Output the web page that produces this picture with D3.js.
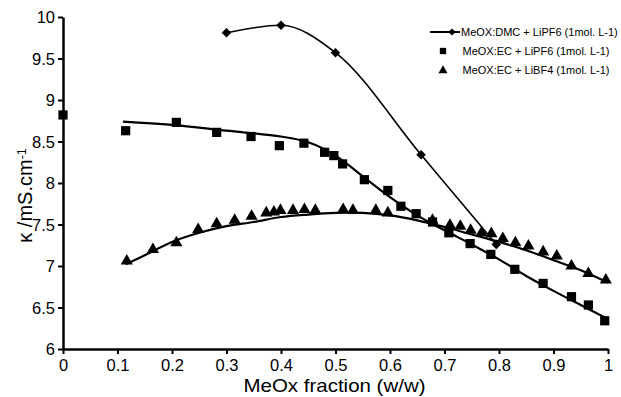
<html><head>
<script src="https://d3js.org/d3.v7.min.js"></script>
<style>
  body { margin: 0; background: #fff; }
  text { font-family: "Liberation Sans", Arial, sans-serif; fill: #000; }
  .axis .domain { stroke: #000; stroke-width: 2.5px; }
  .axis line { stroke: #000; stroke-width: 2px; }
  .fit { fill: none; stroke: #000; stroke-width: 2.2px; }
  .dmc-line { fill: none; stroke: #000; stroke-width: 1.6px; }
</style>
</head>
<body>
<svg id="chart" width="621" height="397"></svg>
<script>
  // MeOX:DMC + LiPF6 (1mol. L-1) - measured points, line goes through them
  const dmcX = [0.30, 0.40, 0.50, 0.657, 0.795];
  const dmcY = [9.81, 9.90, 9.57, 8.34, 7.26];

  // MeOX:EC + LiPF6 (1mol. L-1)
  const ecPf6X = [0, 0.115, 0.208, 0.282, 0.345, 0.397, 0.442, 0.48, 0.497, 0.513, 0.553, 0.596, 0.62, 0.648, 0.678, 0.708, 0.747, 0.785, 0.829, 0.881, 0.933, 0.964, 0.994];
  const ecPf6Y = [8.82, 8.63, 8.73, 8.61, 8.56, 8.45, 8.48, 8.37, 8.33, 8.23, 8.04, 7.91, 7.72, 7.63, 7.53, 7.40, 7.27, 7.14, 6.96, 6.79, 6.63, 6.53, 6.34];
  // trend line
  const ecPf6FitX = [0.11, 0.2, 0.3, 0.4, 0.45, 0.5, 0.55, 0.6, 0.65, 0.7, 0.75, 0.8, 0.85, 0.9, 0.95, 1.0];
  const ecPf6FitY = [8.74, 8.70, 8.63, 8.56, 8.49, 8.33, 8.08, 7.83, 7.61, 7.43, 7.26, 7.08, 6.88, 6.70, 6.53, 6.36];

  // MeOX:EC + LiBF4 (1mol. L-1)
  const ecBf4X = [0.117, 0.165, 0.208, 0.248, 0.282, 0.315, 0.346, 0.373, 0.387, 0.399, 0.422, 0.443, 0.463, 0.514, 0.532, 0.574, 0.596, 0.678, 0.710, 0.729, 0.748, 0.768, 0.786, 0.807, 0.830, 0.854, 0.881, 0.906, 0.933, 0.964, 0.996];
  const ecBf4Y = [7.06, 7.20, 7.28, 7.44, 7.51, 7.55, 7.60, 7.64, 7.65, 7.67, 7.67, 7.68, 7.67, 7.68, 7.67, 7.67, 7.64, 7.55, 7.49, 7.48, 7.43, 7.40, 7.39, 7.33, 7.28, 7.24, 7.17, 7.12, 7.00, 6.91, 6.83];
  const ecBf4FitX = [0.115, 0.15, 0.2, 0.25, 0.3, 0.35, 0.4, 0.45, 0.5, 0.55, 0.6, 0.65, 0.7, 0.75, 0.8, 0.85, 0.9, 0.95, 1.0];
  const ecBf4FitY = [7.02, 7.13, 7.29, 7.40, 7.48, 7.53, 7.59, 7.62, 7.64, 7.64, 7.61, 7.55, 7.47, 7.38, 7.29, 7.19, 7.07, 6.95, 6.80];

  const xTicks = [0, 0.1, 0.2, 0.3, 0.4, 0.5, 0.6, 0.7, 0.8, 0.9, 1];
  const yTicks = [6, 6.5, 7, 7.5, 8, 8.5, 9, 9.5, 10];
  const legendLabels = ["MeOX:DMC + LiPF6 (1mol. L-1)", "MeOX:EC + LiPF6 (1mol. L-1)", "MeOX:EC + LiBF4 (1mol. L-1)"];

  const svg = d3.select("svg#chart");
  const margin = { top: 17, right: 13, bottom: 48, left: 63 };
  const chartWidth = svg.attr("width") - margin.left - margin.right;
  const chartHeight = svg.attr("height") - margin.top - margin.bottom;

  const xScale = d3.scaleLinear().domain([0, 1]).range([0, chartWidth]);
  const yScale = d3.scaleLinear().domain([6, 10]).range([chartHeight, 0]);

  const chartArea = svg.append("g").attr("transform", "translate(" + margin.left + "," + margin.top + ")");

  // axes
  const xAxis = d3.axisBottom(xScale).tickValues(xTicks).tickSizeInner(5).tickSizeOuter(0).tickPadding(5)
    .tickFormat(d => d === 0 || d === 1 ? d3.format("d")(d) : d3.format(".1f")(d));
  chartArea.append("g").attr("class", "x axis")
    .attr("transform", "translate(0," + chartHeight + ")")
    .call(xAxis)
    .selectAll("text").style("font-size", "16.5px");

  const yAxis = d3.axisLeft(yScale).tickValues(yTicks).tickSizeInner(5).tickSizeOuter(0).tickPadding(3)
    .tickFormat(d => d % 1 === 0 ? d3.format("d")(d) : d3.format(".1f")(d));
  chartArea.append("g").attr("class", "y axis")
    .call(yAxis)
    .selectAll("text").style("font-size", "16.5px").attr("dy", "0.36em");

  // axis titles
  svg.append("text")
    .attr("x", 334.5).attr("y", 392)
    .attr("text-anchor", "middle").style("font-size", "19px")
    .attr("textLength", 182).attr("lengthAdjust", "spacingAndGlyphs")
    .text("MeOx fraction (w/w)");

  const yTitle = svg.append("text")
    .attr("transform", "translate(32," + (margin.top + yScale(7.85)) + ") rotate(-90)")
    .attr("text-anchor", "middle").style("font-size", "20px");
  yTitle.append("tspan").text("κ /mS.cm");
  yTitle.append("tspan").attr("dy", "-0.45em").style("font-size", "12.5px").text("-1");

  const line = d3.line()
    .x(d => xScale(d[0]))
    .y(d => yScale(d[1]))
    .curve(d3.curveCatmullRom);

  const dmcLine = d3.line()
    .x(d => xScale(d[0]))
    .y(d => yScale(d[1]))
    .curve(d3.curveMonotoneX);

  const dmc = dmcX.map((x, i) => [x, dmcY[i]]);
  const ecPf6 = ecPf6X.map((x, i) => [x, ecPf6Y[i]]);
  const ecPf6Fit = ecPf6FitX.map((x, i) => [x, ecPf6FitY[i]]);
  const ecBf4 = ecBf4X.map((x, i) => [x, ecBf4Y[i]]);
  const ecBf4Fit = ecBf4FitX.map((x, i) => [x, ecBf4FitY[i]]);

  chartArea.append("path").datum(ecPf6Fit).attr("class", "fit").attr("d", line);
  chartArea.append("path").datum(ecBf4Fit).attr("class", "fit").attr("d", line);
  chartArea.append("path").datum(dmc).attr("class", "dmc-line").attr("d", dmcLine);

  const square = d3.symbol().type(d3.symbolSquare).size(85);
  const triangle = d3.symbol().type(d3.symbolTriangle).size(64);
  const diamond = d3.symbol().type(d3.symbolSquare).size(46);

  chartArea.selectAll(".sq").data(ecPf6).enter()
    .append("path").attr("class", "sq")
    .attr("transform", d => "translate(" + xScale(d[0]) + "," + yScale(d[1]) + ")")
    .attr("d", square);

  chartArea.selectAll(".tri").data(ecBf4).enter()
    .append("path").attr("class", "tri")
    .attr("transform", d => "translate(" + xScale(d[0]) + "," + yScale(d[1]) + ")")
    .attr("d", triangle);

  chartArea.selectAll(".dia").data(dmc).enter()
    .append("path").attr("class", "dia")
    .attr("transform", d => "translate(" + xScale(d[0]) + "," + yScale(d[1]) + ") rotate(45)")
    .attr("d", diamond);

  // legend
  const legend = svg.append("g").attr("transform", "translate(0,0)");
  const rowY = [32, 51, 70.5];
  legend.append("line").attr("x1", 430).attr("x2", 460).attr("y1", rowY[0]).attr("y2", rowY[0])
    .attr("stroke", "#000").attr("stroke-width", 2);
  legend.append("path").attr("transform", "translate(452," + rowY[0] + ") rotate(45)")
    .attr("d", d3.symbol().type(d3.symbolSquare).size(26));
  legend.append("path").attr("transform", "translate(443," + rowY[1] + ")")
    .attr("d", d3.symbol().type(d3.symbolSquare).size(40));
  legend.append("path").attr("transform", "translate(443," + rowY[2] + ")")
    .attr("d", d3.symbol().type(d3.symbolTriangle).size(36));
  legend.selectAll(".leg-text").data(legendLabels).enter()
    .append("text").attr("class", "leg-text")
    .attr("x", (d, i) => i === 0 ? 461 : 462.5)
    .attr("y", (d, i) => rowY[i])
    .attr("dy", "0.36em")
    .style("font-size", "11px")
    .text(d => d);
</script>
</body>
</html>
